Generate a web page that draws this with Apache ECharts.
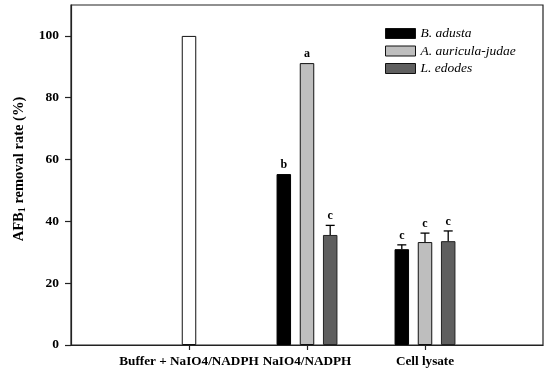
<!DOCTYPE html>
<html><head><meta charset="utf-8">
<script src="https://cdn.jsdelivr.net/npm/echarts@6/dist/echarts.min.js"></script>
<style>html,body{margin:0;padding:0;background:#fff}#c{width:550px;height:375px}</style>
</head><body><div id="c"></div>
<script>
// ---- data ----
var categories = ['', 'Buffer + NaIO4/NADPH', 'NaIO4/NADPH', 'Cell lysate', ''];
var seriesNames = ['B. adusta', 'A. auricula-judae', 'L. edodes'];
var bAdusta = [null, null, 55.3, 31.0, null];
var aAuricula = [null, 100, 91.2, 33.3, null];
var lEdodes = [null, null, 35.6, 33.6, null];
var bAdustaErr = [null, null, 0, 1.4, null];
var aAuriculaErr = [null, 0, 0, 2.9, null];
var lEdodesErr = [null, null, 3.1, 3.3, null];
var bAdustaLetters = ['', '', 'b', 'c', ''];
var aAuriculaLetters = ['', '', 'a', 'c', ''];
var lEdodesLetters = ['', '', 'c', 'c', ''];
var yTicks = [0, 20, 40, 60, 80, 100];

// ---- styling ----
var colors = ['#000000', '#bebebe', '#5f5f5f'];
var borderColors = ['#000000', '#111111', '#222222'];
var BAR_W = 14.5, BAR_GAP = 0.6;
var serif = '"Liberation Serif", "Times New Roman", serif';

var values = [bAdusta, aAuricula, lEdodes];
var errs = [bAdustaErr, aAuriculaErr, lEdodesErr];
var letters = [bAdustaLetters, aAuriculaLetters, lEdodesLetters];

var series = [];
values.forEach(function (vals, s) {
  series.push({
    name: seriesNames[s], type: 'bar', barWidth: BAR_W, barGap: (BAR_GAP * 100) + '%',
    itemStyle: { color: colors[s], borderColor: borderColors[s], borderWidth: 1 },
    data: vals.map(function (v, i) {
      if (v == null) return '-';
      if (s === 1 && i === 1) return { value: v, itemStyle: { color: '#ffffff', borderColor: '#111' } };
      return v;
    })
  });
});
values.forEach(function (vals, s) {
  var offset = (s - 1) * BAR_W * (1 + BAR_GAP);
  var data = [];
  vals.forEach(function (v, i) { if (v != null) data.push([i, v, errs[s][i], letters[s][i]]); });
  series.push({
    type: 'custom', silent: true, z: 5,
    data: data,
    renderItem: function (params, api) {
      var i = api.value(0), v = api.value(1), e = api.value(2);
      var letter = data[params.dataIndex][3];
      var base = api.coord([i, v]);
      var top = api.coord([i, v + e]);
      var x = base[0] + offset;
      var children = [];
      if (e > 0) {
        children.push({ type: 'line', shape: { x1: x, y1: base[1], x2: x, y2: top[1] }, style: { stroke: '#000', lineWidth: 1.3 } });
        children.push({ type: 'line', shape: { x1: x - 4.5, y1: top[1], x2: x + 4.5, y2: top[1] }, style: { stroke: '#000', lineWidth: 1.3 } });
      }
      if (letter) {
        children.push({ type: 'text', style: { text: letter, x: x, y: top[1] - 3, align: 'center', verticalAlign: 'bottom', font: 'bold 12px ' + serif, fill: '#000' } });
      }
      return { type: 'group', children: children };
    }
  });
});

var chart = echarts.init(document.getElementById('c'));
chart.setOption({
  animation: false,
  backgroundColor: '#fff',
  grid: { left: 71, top: 5, right: 7, bottom: 30, show: true, borderColor: '#222', borderWidth: 1.2, backgroundColor: 'transparent' },
  legend: {
    data: seriesNames, orient: 'vertical', left: 380, top: 21.5, itemWidth: 30, itemHeight: 10, itemGap: 3.5, icon: 'rect',
    itemStyle: { borderColor: '#111', borderWidth: 1 },
    textStyle: { fontFamily: serif, fontStyle: 'italic', fontSize: 13.5, color: '#000' }
  },
  xAxis: {
    type: 'category', data: categories, boundaryGap: false,
    axisLine: { lineStyle: { color: '#222', width: 1.2 } },
    axisTick: { length: 5, lineStyle: { color: '#222', width: 1.2 }, interval: function (idx) { return idx >= 1 && idx <= 3; } },
    axisLabel: { interval: 0, margin: 10, fontFamily: serif, fontWeight: 'bold', fontSize: 13.2, color: '#000' },
    splitLine: { show: false }
  },
  yAxis: {
    type: 'value', min: 0, max: 110, interval: 20,
    name: '{a|AFB}{s|1}{a| removal rate (%)}', nameLocation: 'middle', nameGap: 44,
    nameTextStyle: { padding: [0, 0, 0, 12], rich: { a: { fontFamily: serif, fontWeight: 'bold', fontSize: 14.5, color: '#000' }, s: { fontFamily: serif, fontWeight: 'bold', fontSize: 10, color: '#000', verticalAlign: 'bottom', padding: [6, 0, 0, 0] } } },
    axisLine: { show: true, lineStyle: { color: '#222', width: 1.2 } },
    axisTick: { show: true, length: 6, customValues: yTicks, lineStyle: { color: '#222', width: 1.2 } },
    axisLabel: { customValues: yTicks, margin: 12, fontFamily: serif, fontWeight: 'bold', fontSize: 13.5, color: '#000' },
    splitLine: { show: false }
  },
  series: series
});
</script></body></html>
